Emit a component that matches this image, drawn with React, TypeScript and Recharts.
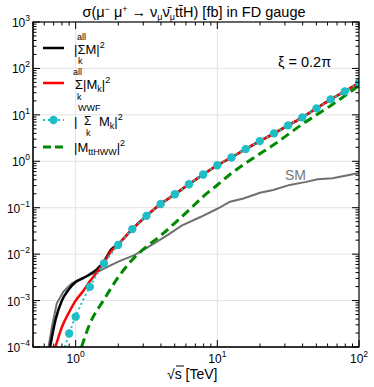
import React from 'react';
import { LineChart, Line, XAxis, YAxis, CartesianGrid } from 'recharts';

const W = 374;
const H = 387;
const PL = 33;
const PR = 359;
const PT = 22;
const PB = 347;
const FONT = '"Liberation Sans", Arial, sans-serif';

// tick values
const xMajor = [1, 10, 100];
const xMinor = [0.5, 0.6, 0.7, 0.8, 0.9, 2, 3, 4, 5, 6, 7, 8, 9, 20, 30, 40, 50, 60, 70, 80, 90];
const yMajor = [1e-4, 1e-3, 1e-2, 1e-1, 1, 10, 100, 1000];
const yMinor: number[] = [];
for (let d = -4; d < 3; d++) for (let k = 2; k <= 9; k++) yMinor.push(k * Math.pow(10, d));
const gridY = [1e-3, 1e-2, 1e-1, 1, 10, 100];
const gridX = [1, 10];

// SM
const smX = [0.644, 0.68, 0.736, 0.82, 0.94, 1.1, 1.44, 1.78, 2.0, 2.6, 3.4, 4.45, 5.6, 7.6, 10, 12.3, 15.3, 20, 24.8, 32.4, 42.4, 51, 65, 80, 100];
const smY = [1e-4, 2.7e-4, 8.7e-4, 1.55e-3, 2.35e-3, 3.0e-3, 4.2e-3, 5.8e-3, 6.9e-3, 9.5e-3, 0.0155, 0.0257, 0.041, 0.063, 0.095, 0.135, 0.158, 0.21, 0.24, 0.31, 0.36, 0.41, 0.43, 0.49, 0.56];

// |sum M|^2
const allX = [0.66, 0.72, 0.8, 0.89, 1.0, 1.12, 1.259, 1.41, 1.585, 1.78, 1.995, 2.512, 3.162, 3.981, 5.012, 6.31, 7.943, 10, 12.59, 15.85, 19.95, 25.12, 31.62, 39.81, 50.12, 63.1, 79.43, 100];
const allY = [1e-4, 3.8e-4, 1.0e-3, 1.7e-3, 2.5e-3, 3.0e-3, 3.7e-3, 4.7e-3, 7.0e-3, 0.0125, 0.0165, 0.0346, 0.0668, 0.12, 0.195, 0.32, 0.52, 0.82, 1.21, 1.83, 2.72, 3.99, 5.94, 8.83, 13.8, 21.6, 32.1, 49.2];

// sum |M_k|^2
const sumX = [0.72, 0.8, 0.89, 1.0, 1.12, 1.259, 1.41, 1.585, 1.78, 1.995, 2.512, 3.162, 3.981, 5.012, 6.31, 7.943, 10, 12.59, 15.85, 19.95, 25.12, 31.62, 39.81, 50.12, 63.1, 79.43, 100];
const sumY = [1e-4, 2.7e-4, 5.3e-4, 1.0e-3, 1.55e-3, 2.6e-3, 4.0e-3, 6.6e-3, 0.0115, 0.0162, 0.0346, 0.0668, 0.12, 0.195, 0.32, 0.52, 0.82, 1.21, 1.83, 2.72, 3.99, 5.94, 8.83, 13.8, 21.6, 32.1, 49.2];

// |sum_WWF M_k|^2 (first point only closes the line to the axis)
const wwfX = [0.84, 0.9, 1.0, 1.259, 1.585, 1.995, 2.512, 3.162, 3.981, 5.012, 6.31, 7.943, 10, 12.59, 15.85, 19.95, 25.12, 31.62, 39.81, 50.12, 63.1, 79.43, 100];
const wwfY = [1e-4, 1.95e-4, 4.5e-4, 1.97e-3, 6.3e-3, 0.0158, 0.0346, 0.0668, 0.12, 0.195, 0.32, 0.52, 0.82, 1.21, 1.83, 2.72, 3.99, 5.94, 8.83, 13.8, 21.6, 32.1, 49.2];

// |M_ttHWW|^2
const hwwX = [1.1, 1.259, 1.585, 1.995, 2.512, 3.162, 3.981, 5.012, 6.31, 7.943, 10, 12.59, 15.85, 19.95, 25.12, 31.62, 39.81, 50.12, 63.1, 79.43, 100];
const hwwY = [1e-4, 3.16e-4, 1.05e-3, 3.16e-3, 7.6e-3, 0.0145, 0.0251, 0.0468, 0.089, 0.174, 0.309, 0.55, 0.91, 1.45, 2.29, 3.8, 6.3, 10, 15.8, 25.7, 42.7];

const pts = (xs: number[], ys: number[]) => xs.map((x, i) => ({ x, y: ys[i] }));
const smData = pts(smX, smY);
const allData = pts(allX, allY);
const sumData = pts(sumX, sumY);
const wwfData = pts(wwfX, wwfY);
const hwwData = pts(hwwX, hwwY);

const CYAN = '#1fbec6';
const GREEN = '#008a00';

const isMajor = (v: number) => {
  const l = Math.log10(v);
  return Math.abs(l - Math.round(l)) < 1e-6;
};
const expLabel = (v: number) => {
  const e = Math.round(Math.log10(v));
  return e < 0 ? '\u2212' + Math.abs(e) : String(e);
};

const YTick = (props: any) => {
  const { y, payload } = props;
  const v = payload.value;
  const major = isMajor(v);
  const len = major ? 7 : 3.5;
  return (
    <g>
      <line x1={PL} x2={PL + len} y1={y} y2={y} stroke="#000" strokeWidth={1} />
      <line x1={PR - len} x2={PR} y1={y} y2={y} stroke="#000" strokeWidth={1} />
      {major && (
        <text x={30} y={y + 5} textAnchor="end" fontSize={12} fontFamily={FONT} fill="#000">
          10<tspan dy={-6} fontSize={8.5}>{expLabel(v)}</tspan>
        </text>
      )}
    </g>
  );
};

const XTick = (props: any) => {
  const { x, payload } = props;
  const v = payload.value;
  const major = isMajor(v);
  const len = major ? 7 : 3.5;
  return (
    <g>
      <line x1={x} x2={x} y1={PB} y2={PB - len} stroke="#000" strokeWidth={1} />
      <line x1={x} x2={x} y1={PT} y2={PT + len} stroke="#000" strokeWidth={1} />
      {major && (
        <text x={x} y={363} textAnchor="middle" fontSize={12} fontFamily={FONT} fill="#000">
          10<tspan dy={-6} fontSize={8.5}>{expLabel(v)}</tspan>
        </text>
      )}
    </g>
  );
};

const WwfDot = (props: any) => {
  const { cx, cy, index } = props;
  if (index === 0) return <g key={`d${index}`} />;
  return <circle key={`d${index}`} cx={cx} cy={cy} r={4.2} fill={CYAN} stroke="none" />;
};

function Overlay() {
  return (
    <svg width={W} height={H} style={{ position: 'absolute', left: 0, top: 0, pointerEvents: 'none' }} fontFamily={FONT}>
      <rect x={PL} y={PT} width={PR - PL} height={PB - PT} fill="none" stroke="#000" strokeWidth={1.2} />
      {/* title */}
      <text x={194} y={17} textAnchor="middle" fontSize={14.5} fill="#000">
        σ(μ<tspan dy={-5} fontSize={9}>−</tspan>
        <tspan dy={5}> μ</tspan>
        <tspan dy={-5} fontSize={9}>+</tspan>
        <tspan dy={5}> → ν</tspan>
        <tspan dy={3} fontSize={9}>μ</tspan>
        <tspan dy={-3}>{'\u03BD\u0304'}</tspan>
        <tspan dy={3} fontSize={9}>μ</tspan>
        <tspan dy={-3}>{'tt\u0304H) [fb] in FD gauge'}</tspan>
      </text>
      <text x={278} y={67} fontSize={14.5} fill="#000">ξ = 0.2π</text>
      <text x={285} y={180} fontSize={14} fill="#777">SM</text>
      {/* x label */}
      <text x={167} y={379} fontSize={14} fill="#000">√s [TeV]</text>
      <line x1={176} x2={184} y1={366} y2={366} stroke="#000" strokeWidth={1} />

      {/* legend */}
      <line x1={43} x2={64} y1={48} y2={48} stroke="#000" strokeWidth={2.5} />
      <text x={74} y={54} fontSize={13} fill="#000">
        |ΣM|<tspan dy={-6} fontSize={9}>2</tspan>
      </text>
      <text x={77} y={40} fontSize={9} fill="#000">all</text>
      <text x={78} y={64} fontSize={9} fill="#000">k</text>

      <line x1={43} x2={64} y1={83} y2={83} stroke="#ff0000" strokeWidth={2.5} />
      <text x={75} y={89} fontSize={13} fill="#000">
        Σ|M<tspan dy={3} fontSize={9}>k</tspan>
        <tspan dy={-3}>|</tspan>
        <tspan dy={-6} fontSize={9}>2</tspan>
      </text>
      <text x={73} y={75} fontSize={9} fill="#000">all</text>
      <text x={77} y={100} fontSize={9} fill="#000">k</text>

      <line x1={43} x2={64} y1={120} y2={120} stroke={CYAN} strokeWidth={2} strokeDasharray="2 3" />
      <circle cx={53.5} cy={120} r={4.2} fill={CYAN} />
      <text x={74} y={126} fontSize={13} fill="#000">|</text>
      <text x={84} y={125} fontSize={12} fill="#000">Σ</text>
      <text x={99} y={126} fontSize={13} fill="#000">
        M<tspan dy={3} fontSize={9}>k</tspan>
        <tspan dy={-3}>|</tspan>
        <tspan dy={-6} fontSize={9}>2</tspan>
      </text>
      <text x={78} y={111} fontSize={9} fill="#000">WWF</text>
      <text x={86} y={136} fontSize={9} fill="#000">k</text>

      <line x1={43} x2={64} y1={147} y2={147} stroke={GREEN} strokeWidth={3} strokeDasharray="8 4" />
      <text x={74} y={152} fontSize={13} fill="#000">
        |M<tspan dy={3} fontSize={9}>ttHWW</tspan>
        <tspan dy={-3}>|</tspan>
        <tspan dy={-6} fontSize={9}>2</tspan>
      </text>
    </svg>
  );
}

export default function App() {
  return (
    <div style={{ position: 'absolute', left: 0, top: 0, width: W, height: H, background: '#fff' }}>
      <LineChart width={W} height={H} margin={{ top: PT, right: W - PR, bottom: 0, left: 0 }}>
        <CartesianGrid horizontalValues={gridY} verticalValues={gridX} stroke="#e3e3e3" strokeWidth={1} />
        <XAxis
          dataKey="x"
          type="number"
          scale="log"
          domain={[0.5, 100]}
          allowDataOverflow
          ticks={[...xMinor, ...xMajor].sort((a, b) => a - b)}
          interval={0}
          tick={<XTick />}
          tickLine={false}
          axisLine={{ stroke: '#000' }}
          height={H - PB}
        />
        <YAxis
          type="number"
          scale="log"
          domain={[1e-4, 1e3]}
          allowDataOverflow
          ticks={[...yMinor, ...yMajor].sort((a, b) => a - b)}
          interval={0}
          tick={<YTick />}
          tickLine={false}
          axisLine={{ stroke: '#000' }}
          width={PL}
        />
        <Line data={smData} dataKey="y" type="linear" stroke="#6f6f6f" strokeWidth={2} dot={false} isAnimationActive={false} />
        <Line data={allData} dataKey="y" type="monotone" stroke="#000" strokeWidth={2.5} dot={false} isAnimationActive={false} />
        <Line data={sumData} dataKey="y" type="monotone" stroke="#ff0000" strokeWidth={2.5} dot={false} isAnimationActive={false} />
        <Line data={wwfData} dataKey="y" type="monotone" stroke={CYAN} strokeWidth={2} strokeDasharray="2 3" dot={WwfDot} activeDot={false} isAnimationActive={false} />
        <Line data={hwwData} dataKey="y" type="monotone" stroke={GREEN} strokeWidth={3} strokeDasharray="9 5" dot={false} isAnimationActive={false} />
      </LineChart>
      <Overlay />
    </div>
  );
}
